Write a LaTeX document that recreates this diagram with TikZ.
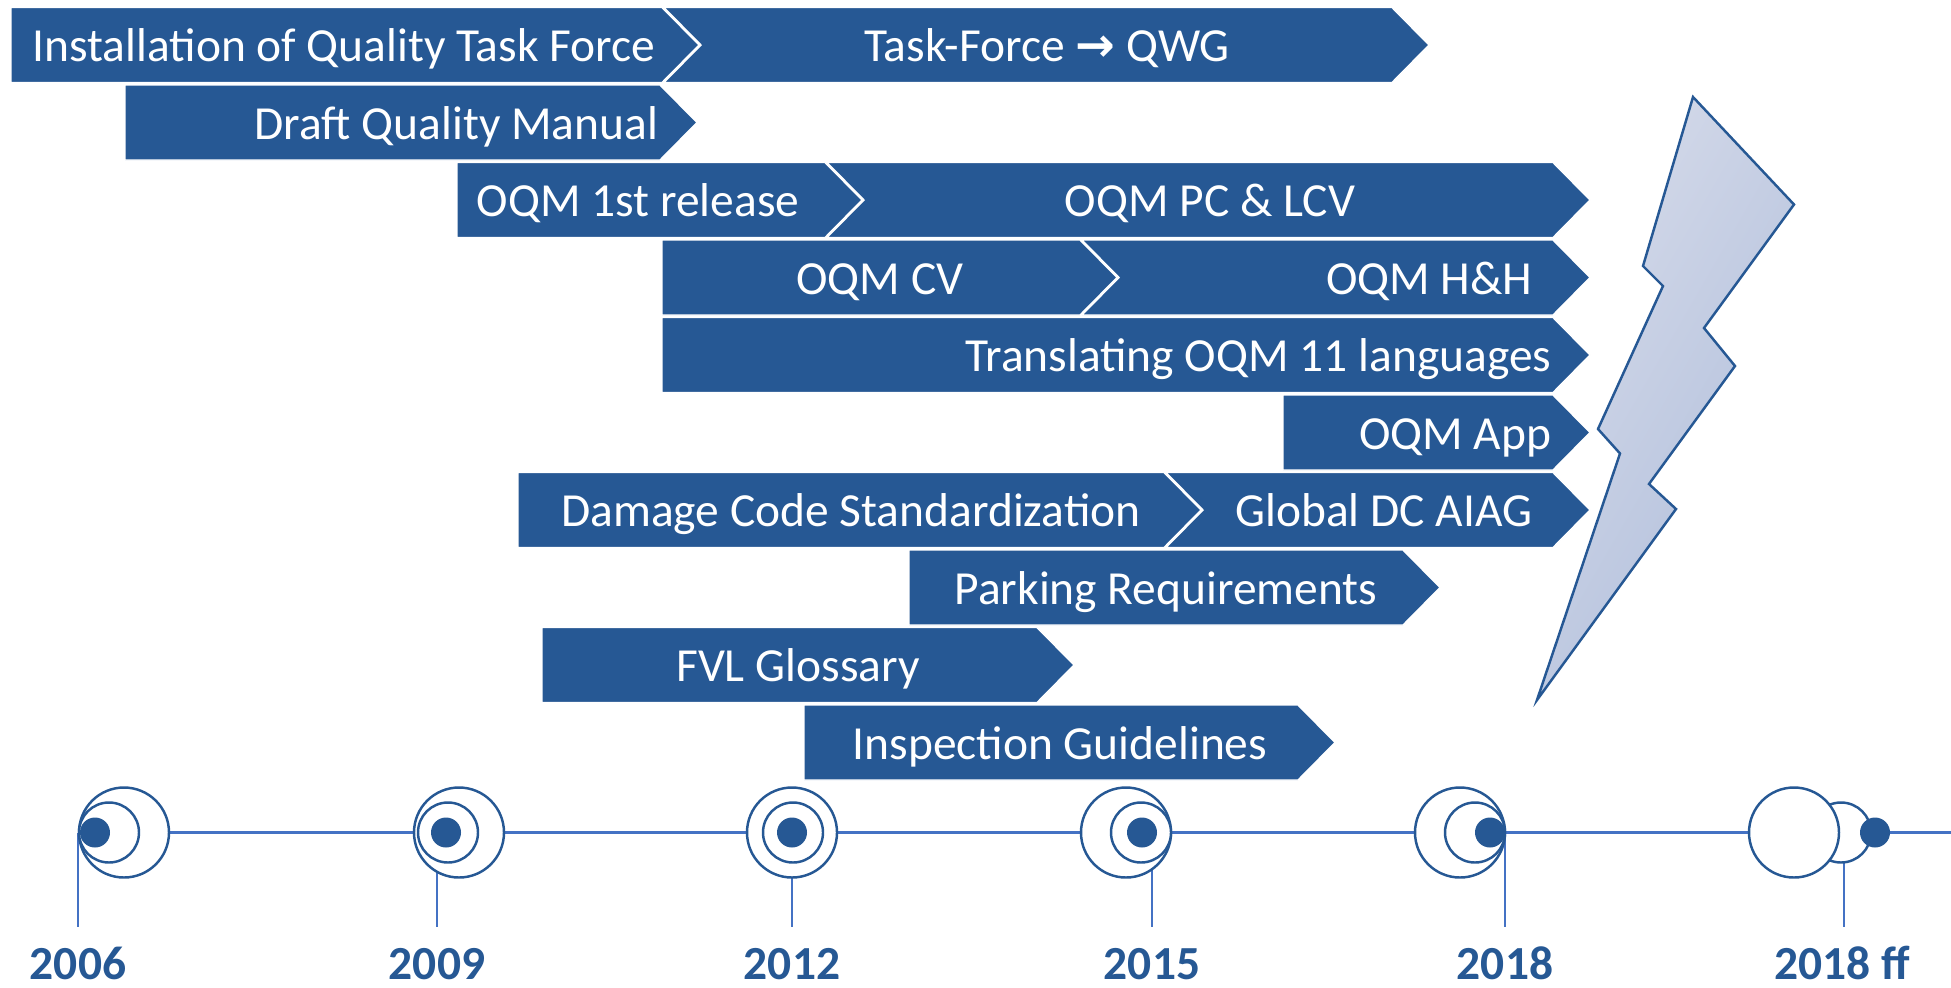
\documentclass[tikz,border=0pt]{standalone}
\usepackage{fontspec}
\setmainfont{Carlito}
\newfontfamily\arrowfont{DejaVu Sans}
\definecolor{barblue}{RGB}{38,88,148}
\definecolor{lineblue}{RGB}{68,114,196}
\definecolor{boltlight}{RGB}{214,219,234}
\definecolor{boltdark}{RGB}{176,190,219}

\begin{document}
\begin{tikzpicture}[x=0.01cm, y=-0.01cm,
    chev/.style={fill=barblue, draw=white, line width=0.4pt},
    lbl/.style={text=white, font=\fontsize{13.5}{16}\selectfont, inner sep=0pt, anchor=base},
    rlbl/.style={lbl, anchor=base east},
    yearlbl/.style={text=barblue, font=\bfseries\fontsize{13.5}{16}\selectfont, inner sep=0pt, anchor=base},
    ring/.style={draw=barblue, fill=white, line width=0.7pt},
    tick/.style={lineblue, line width=0.3pt},
    tline/.style={lineblue, line width=1.1pt},
    bolt/.style={draw=barblue, line width=0.7pt, left color=boltlight, right color=boltdark, shading angle=60}]
  \useasboundingbox (0,0) rectangle (1951,987);

  % plain bars
  \foreach \xa/\xb/\t in {11/662/7.5, 125/660/85, 457/825/162.5, 662/1080/240, 662/1553/317.5,
      1283/1553/395, 518/1164/472.5, 909/1403/550, 542/1037/627.5, 804/1298/705}
    \draw[chev] (\xa,\t) -- (\xb,\t) -- (\xb+37,\t+37.5) -- (\xb,\t+75) -- (\xa,\t+75) -- cycle;
  % follow-up bars with notch
  \foreach \xa/\xb/\t in {664/1392/7.5, 827/1553/162.5, 1082/1553/240, 1166/1553/472.5}
    \draw[chev] (\xa,\t) -- (\xb,\t) -- (\xb+37,\t+37.5) -- (\xb,\t+75) -- (\xa,\t+75) -- (\xa+37,\t+37.5) -- cycle;

  \node[lbl] (taskforce) at (344,61.5) {Installation of Quality Task Force};
  \node[lbl] (qwg) at (1047,61.5) {Task-Force {\arrowfont\bfseries →} QWG};
  \node[rlbl] (manual) at (659,139) {Draft Quality Manual};
  \node[lbl] (first) at (638,216.5) {OQM 1st release};
  \node[lbl] (pclcv) at (1210,216.5) {OQM PC \& LCV};
  \node[lbl] (cv) at (880,294) {OQM CV};
  \node[rlbl] (hh) at (1533,294) {OQM H\&H};
  \node[rlbl] (transl) at (1552,371.5) {Translating OQM 11 languages};
  \node[rlbl] (app) at (1552,449) {OQM App};
  \node[lbl] (damage) at (851,526.5) {Damage Code Standardization};
  \node[rlbl] (aiag) at (1533,526.5) {Global DC AIAG};
  \node[lbl] (parking) at (1166,604) {Parking Requirements};
  \node[lbl] (glossary) at (798,681.5) {FVL Glossary};
  \node[lbl] (inspect) at (1060,759) {Inspection Guidelines};

  % lightning
  \draw[bolt] (1693,97) -- (1794,204.5) -- (1704,328) -- (1735,366) -- (1649,484) -- (1676,509)
    -- (1537,700) -- (1620,453.5) -- (1598,429) -- (1663,286) -- (1643,266) -- cycle;

  % timeline
  \coordinate (tstart) at (78,832.5);
  \coordinate (tend) at (1951,832.5);
  \draw[tline] (tstart) -- (tend);
  \foreach \yr/\tx/\bx/\mx/\dx in {2006/78/124/109/95, 2009/437/459/448/446, 2012/792/792/793/792,
      2015/1152/1126/1141/1142, 2018/1505/1460/1475/1490} {
    \coordinate (top\yr) at (\tx,832.5);
    \coordinate (bot\yr) at (\tx,927);
    \draw[tick] (top\yr) -- (bot\yr);
    \node[yearlbl] (lbl\yr) at (\tx,979) {\yr};
    \draw[ring] (\bx,832.5) circle[radius=45];
    \draw[ring] (\mx,832.5) circle[radius=30];
    \fill[barblue] (\dx,832.5) circle[radius=15];
  }
  \coordinate (topff) at (1844,832.5);
  \coordinate (botff) at (1844,927);
  \draw[tick] (topff) -- (botff);
  \node[yearlbl] (lblff) at (1842,979) {2018 ff};
  \draw[ring] (1841,832.5) circle[radius=30];
  \draw[ring] (1794,832.5) circle[radius=45];
  \fill[barblue] (1875,832.5) circle[radius=15];
\end{tikzpicture}
\end{document}
